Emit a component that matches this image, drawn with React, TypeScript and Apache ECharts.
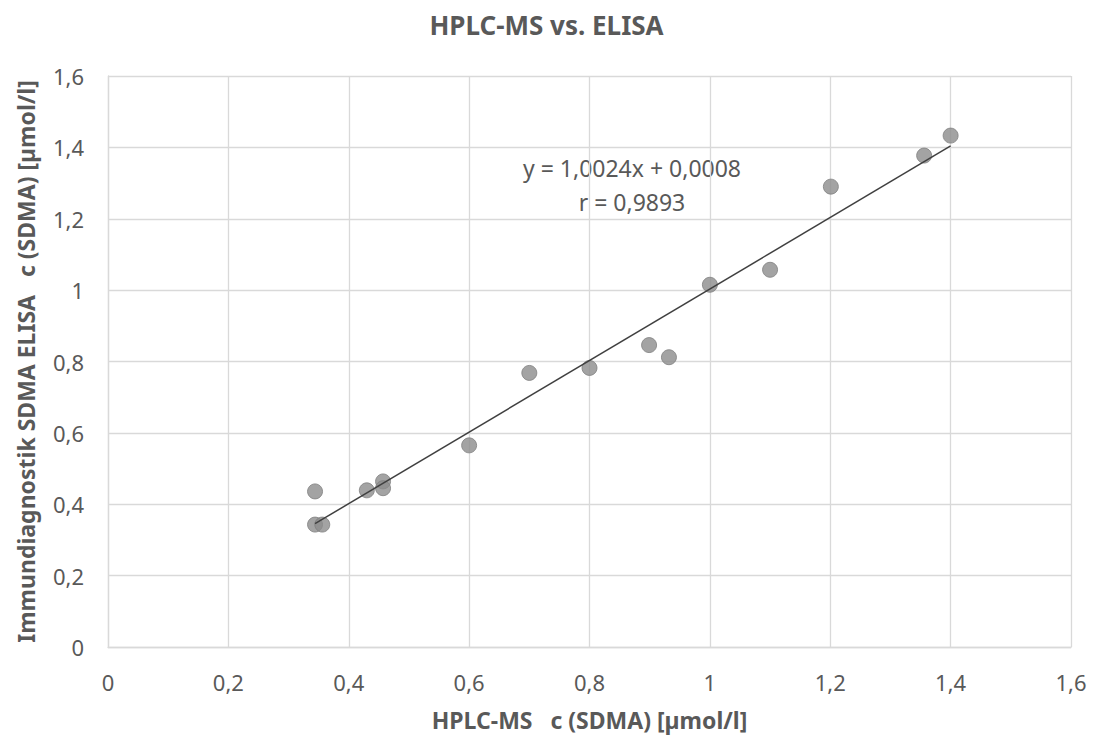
import React, { useEffect, useRef } from "react";
import * as echarts from "echarts";

const TITLE = "HPLC-MS vs. ELISA";
const X_NAME = "HPLC-MS   c (SDMA) [µmol/l]";
const Y_NAME = "Immundiagnostik SDMA ELISA   c (SDMA) [µmol/l]";
const EQUATION = "y = 1,0024x + 0,0008";
const R_TEXT = "r = 0,9893";
const SLOPE = 1.0024;
const INTERCEPT = 0.0008;

const hplcValues = [0.344, 0.344, 0.356, 0.43, 0.457, 0.457, 0.6, 0.7, 0.8, 0.899, 0.932, 1.0, 1.1, 1.201, 1.356, 1.4];
const elisaValues = [0.436, 0.343, 0.343, 0.439, 0.464, 0.445, 0.565, 0.768, 0.782, 0.846, 0.812, 1.015, 1.057, 1.29, 1.377, 1.433];

const fmt = (v: number) => String(Math.round(v * 10) / 10).replace(".", ",");

export default function App() {
  const ref = useRef<HTMLDivElement>(null);
  useEffect(() => {
    document.body.style.margin = "0";
    const chart = echarts.init(ref.current!, undefined, { renderer: "svg" });
    const points = hplcValues.map((x, i) => [x, elisaValues[i]]);
    const xMin = Math.min(...hplcValues);
    const xMax = Math.max(...hplcValues);
    const trend = [
      [xMin, SLOPE * xMin + INTERCEPT],
      [xMax, SLOPE * xMax + INTERCEPT],
    ];
    const font = "'Noto Sans', sans-serif";
    const gridColor = "#d9d9d9";
    const textColor = "#595959";
    chart.setOption({
      animation: false,
      backgroundColor: "#ffffff",
      textStyle: { fontFamily: font },
      title: {
        text: TITLE,
        left: "center",
        top: 7,
        textStyle: { fontFamily: font, fontSize: 26, fontWeight: "bold", color: textColor },
      },
      grid: { left: 108, right: 22, top: 76, bottom: 89, containLabel: false },
      xAxis: {
        type: "value",
        min: 0,
        max: 1.6,
        interval: 0.2,
        name: X_NAME,
        nameLocation: "middle",
        nameGap: 61,
        nameTextStyle: { fontFamily: font, fontSize: 23, fontWeight: "bold", color: textColor },
        axisLine: { show: true, lineStyle: { color: gridColor, width: 1.3 } },
        axisTick: { show: false },
        axisLabel: { margin: 24, fontSize: 22, color: textColor, fontFamily: font, formatter: fmt },
        splitLine: { show: true, lineStyle: { color: gridColor, width: 1.3 } },
      },
      yAxis: {
        type: "value",
        min: 0,
        max: 1.6,
        interval: 0.2,
        name: Y_NAME,
        nameLocation: "middle",
        nameGap: 71,
        nameTextStyle: { fontFamily: font, fontSize: 23, fontWeight: "bold", color: textColor },
        axisLine: { show: true, lineStyle: { color: gridColor, width: 1.3 } },
        axisTick: { show: false },
        axisLabel: { margin: 24, fontSize: 22, color: textColor, fontFamily: font, formatter: fmt },
        splitLine: { show: true, lineStyle: { color: gridColor, width: 1.3 } },
      },
      series: [
        {
          type: "line",
          data: trend,
          symbol: "none",
          lineStyle: { color: "#404040", width: 1.5 },
          z: 3,
        },
        {
          type: "scatter",
          data: points,
          symbolSize: 15,
          itemStyle: { color: "#8c8c8c", borderColor: "#808080", borderWidth: 1 },
          z: 2,
        },
      ],
      graphic: [
        {
          type: "text",
          x: 632,
          y: 168,
          style: { text: EQUATION, fontSize: 23, fill: textColor, fontFamily: font, align: "center", verticalAlign: "middle" },
        },
        {
          type: "text",
          x: 632,
          y: 202,
          style: { text: R_TEXT, fontSize: 23, fill: textColor, fontFamily: font, align: "center", verticalAlign: "middle" },
        },
      ],
    });
    return () => chart.dispose();
  }, []);
  return <div ref={ref} style={{ position: "fixed", left: 0, top: 0, width: 1093, height: 736 }} />;
}
